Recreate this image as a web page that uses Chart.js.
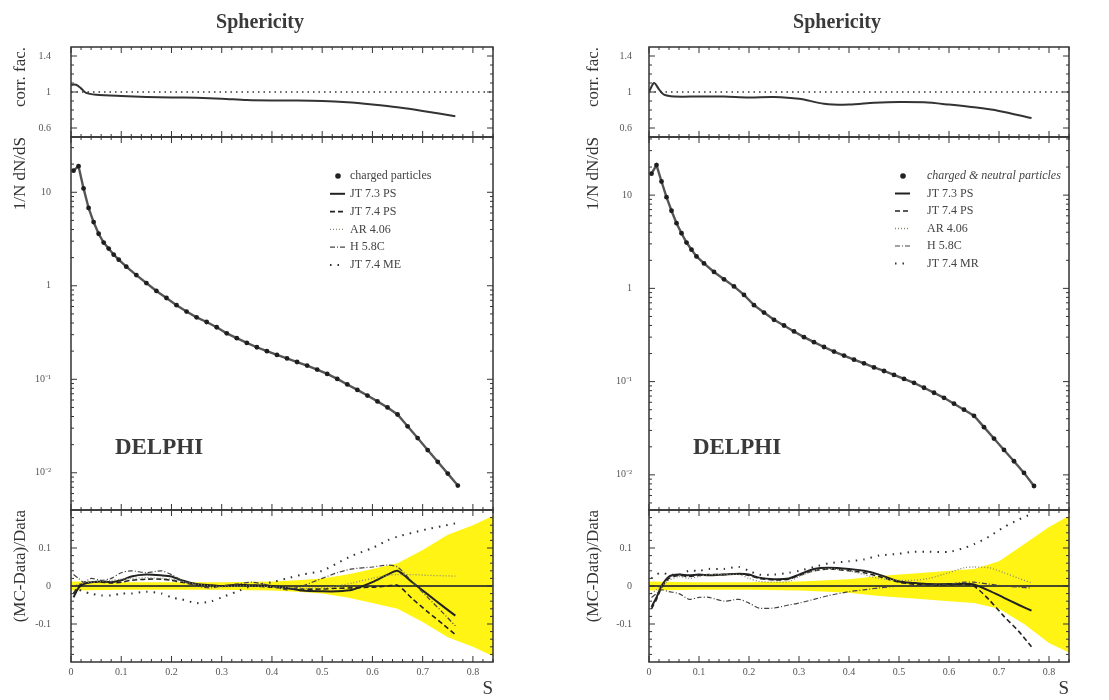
<!DOCTYPE html>
<html>
<head>
<meta charset="utf-8">
<script src="https://cdn.jsdelivr.net/npm/chart.js@4.4.1/dist/chart.umd.min.js"></script>
<style>
  html, body { margin: 0; padding: 0; background: #fff; }
  body { width: 1109px; height: 700px; position: relative; overflow: hidden; }
  canvas { position: absolute; top: 0; }
  #left { left: 0; }
  #right { left: 565px; }
</style>
</head>
<body>
<canvas id="left" width="540" height="700"></canvas>
<canvas id="right" width="544" height="700"></canvas>
<script>
// ---- data ----
const xTickValues = [0, 0.1, 0.2, 0.3, 0.4, 0.5, 0.6, 0.7, 0.8];
const xTickLabels = ['0', '0.1', '0.2', '0.3', '0.4', '0.5', '0.6', '0.7', '0.8'];
const corrTickValues = [0.6, 0.8, 1, 1.2, 1.4];
const corrTickLabels = ['0.6', '0.8', '1', '1.2', '1.4'];
const logTickValues = [0.01, 0.1, 1, 10];
const logTickLabels = ['10⁻²', '10⁻¹', '1', '10'];
const ratioTickValues = [-0.1, 0, 0.1];
const ratioTickLabels = ['-0.1', '0', '0.1'];

const legendLeft = ['charged particles', 'JT 7.3 PS', 'JT 7.4 PS', 'AR 4.06', 'H 5.8C', 'JT 7.4 ME'];
const legendRight = ['charged & neutral particles', 'JT 7.3 PS', 'JT 7.4 PS', 'AR 4.06', 'H 5.8C', 'JT 7.4 MR'];

// 1/N dN/dS
const dataS = [0.005, 0.015, 0.025, 0.035, 0.045, 0.055, 0.065, 0.075, 0.085, 0.095,
  0.11, 0.13, 0.15, 0.17, 0.19, 0.21, 0.23, 0.25, 0.27, 0.29,
  0.31, 0.33, 0.35, 0.37, 0.39, 0.41, 0.43, 0.45, 0.47, 0.49,
  0.51, 0.53, 0.55, 0.57, 0.59, 0.61, 0.63, 0.65, 0.67, 0.69,
  0.71, 0.73, 0.75, 0.77];
const dataLeft = [17, 19, 11, 6.8, 4.8, 3.6, 2.9, 2.5, 2.15, 1.9,
  1.6, 1.3, 1.07, 0.88, 0.74, 0.62, 0.53, 0.46, 0.41, 0.36,
  0.31, 0.275, 0.245, 0.22, 0.2, 0.182, 0.167, 0.153, 0.14, 0.127,
  0.114, 0.101, 0.088, 0.077, 0.067, 0.058, 0.05, 0.042, 0.0314, 0.0235,
  0.0175, 0.0131, 0.0098, 0.0073];
const dataRight = [17, 21, 14, 9.5, 6.8, 5.0, 3.9, 3.1, 2.6, 2.2,
  1.85, 1.5, 1.25, 1.05, 0.85, 0.66, 0.55, 0.46, 0.4, 0.345,
  0.3, 0.265, 0.235, 0.21, 0.19, 0.172, 0.157, 0.142, 0.13, 0.118,
  0.107, 0.097, 0.086, 0.076, 0.067, 0.058, 0.05, 0.043, 0.0325, 0.0245,
  0.0185, 0.014, 0.0105, 0.0076];

// correction factor
const corrS = [0, 0.01, 0.02, 0.03, 0.05, 0.1, 0.15, 0.2, 0.25, 0.3, 0.35, 0.4, 0.45, 0.5, 0.55, 0.6, 0.65, 0.7, 0.765];
const corrLeft = [1.08, 1.08, 1.04, 0.99, 0.97, 0.955, 0.945, 0.94, 0.935, 0.925, 0.91, 0.905, 0.905, 0.9, 0.885, 0.86, 0.83, 0.79, 0.73];
const corrRight = [1.0, 1.1, 1.03, 0.97, 0.95, 0.95, 0.95, 0.94, 0.945, 0.925, 0.87, 0.86, 0.88, 0.89, 0.885, 0.86, 0.83, 0.79, 0.71];
const unityS = [0, 0.84];
const unityV = [1, 1];
const zeroV = [0, 0];

// data error band in the ratio panel
const bandS = [0, 0.1, 0.2, 0.3, 0.4, 0.45, 0.5, 0.55, 0.6, 0.65, 0.7, 0.75, 0.8, 0.84];
const bandHiLeft = [0.012, 0.01, 0.01, 0.01, 0.012, 0.015, 0.02, 0.03, 0.045, 0.06, 0.095, 0.135, 0.16, 0.185];
const bandLoLeft = [-0.012, -0.01, -0.01, -0.01, -0.012, -0.015, -0.02, -0.03, -0.045, -0.06, -0.095, -0.135, -0.16, -0.185];
const bandHiRight = [0.012, 0.01, 0.01, 0.012, 0.018, 0.025, 0.03, 0.035, 0.04, 0.045, 0.065, 0.11, 0.155, 0.185];
const bandLoRight = [-0.012, -0.01, -0.01, -0.012, -0.018, -0.025, -0.03, -0.035, -0.04, -0.045, -0.06, -0.1, -0.15, -0.175];

// (MC-Data)/Data
const ratioS = [0.005, 0.015, 0.025, 0.04, 0.06, 0.08, 0.1, 0.12, 0.15, 0.18, 0.2, 0.22, 0.25, 0.28, 0.3,
  0.33, 0.36, 0.4, 0.43, 0.46, 0.5, 0.53, 0.56, 0.6, 0.63, 0.65, 0.68, 0.71, 0.74, 0.765];
const jt73Left = [-0.03, -0.005, 0.005, 0.01, 0.012, 0.01, 0.015, 0.025, 0.03, 0.028, 0.025, 0.015, 0.005, 0.002, 0.0,
  0.003, 0.002, 0.0, -0.005, -0.012, -0.014, -0.014, -0.01, 0.01, 0.03, 0.04, 0.009, -0.022, -0.053, -0.078];
const jt74Left = [-0.02, 0.0, 0.008, 0.01, 0.01, 0.008, 0.01, 0.015, 0.018, 0.018, 0.015, 0.01, 0.003, 0.0, 0.0,
  0.002, 0.0, -0.003, -0.006, -0.008, -0.008, -0.006, -0.005, -0.003, 0.0, 0.002, -0.034, -0.068, -0.1, -0.128];
const arLeft = [0.0, 0.005, 0.01, 0.01, 0.012, 0.015, 0.018, 0.02, 0.022, 0.02, 0.018, 0.012, 0.005, 0.0, -0.002,
  0.0, 0.0, -0.002, -0.004, -0.006, -0.005, 0.0, 0.008, 0.02, 0.028, 0.03, 0.03, 0.028, 0.027, 0.026];
const hLeft = [0.03, 0.02, 0.01, 0.02, 0.015, 0.02, 0.035, 0.04, 0.035, 0.04, 0.03, 0.015, 0.0, -0.005, 0.0,
  0.005, 0.01, 0.0, -0.01, 0.0, 0.02, 0.035, 0.045, 0.05, 0.055, 0.05, 0.01, -0.03, -0.07, -0.105];
const meLeft = [-0.02, -0.01, -0.015, -0.02, -0.025, -0.025, -0.02, -0.02, -0.015, -0.02, -0.03, -0.035, -0.045, -0.04, -0.03,
  -0.015, 0.0, 0.01, 0.02, 0.03, 0.04, 0.06, 0.08, 0.1, 0.12, 0.13, 0.14, 0.15, 0.158, 0.165];

const jt73Right = [-0.055, -0.03, 0.0, 0.025, 0.03, 0.028, 0.03, 0.028, 0.03, 0.032, 0.03, 0.022, 0.018, 0.02, 0.03,
  0.045, 0.048, 0.045, 0.04, 0.03, 0.012, 0.008, 0.005, 0.005, 0.006, 0.004, -0.012, -0.031, -0.05, -0.065];
const jt74Right = [-0.06, -0.035, -0.005, 0.02, 0.028, 0.025, 0.028, 0.03, 0.03, 0.032, 0.028, 0.02, 0.016, 0.018, 0.028,
  0.04, 0.045, 0.04, 0.035, 0.025, 0.01, 0.005, 0.003, 0.003, 0.004, 0.0, -0.036, -0.08, -0.12, -0.16];
const arRight = [-0.02, -0.01, 0.0, 0.015, 0.025, 0.02, 0.025, 0.03, 0.03, 0.03, 0.02, 0.012, 0.01, 0.012, 0.025,
  0.04, 0.045, 0.04, 0.03, 0.02, 0.015, 0.015, 0.02, 0.035, 0.048, 0.05, 0.048, 0.035, 0.02, 0.008];
const hRight = [-0.03, -0.02, -0.01, -0.015, -0.02, -0.035, -0.03, -0.03, -0.04, -0.035, -0.045, -0.058, -0.058, -0.05, -0.045,
  -0.035, -0.025, -0.015, -0.01, -0.005, 0.0, 0.0, 0.003, 0.005, 0.01, 0.01, 0.005, 0.0, -0.003, -0.005];
const meRight = [0.02, 0.03, 0.035, 0.03, 0.03, 0.04, 0.04, 0.045, 0.045, 0.05, 0.04, 0.03, 0.03, 0.035, 0.04,
  0.05, 0.06, 0.065, 0.07, 0.08, 0.085, 0.09, 0.09, 0.09, 0.1, 0.11, 0.13, 0.155, 0.175, 0.19];

// ---- styling ----
const serif = "'Liberation Serif', 'Times New Roman', serif";
const ink = '#333';
const yellow = 'rgb(255, 244, 20)';
const curveStyles = [
  {color: '#222', width: 2, dash: []},            // JT 7.3 PS
  {color: '#222', width: 1.6, dash: [5, 3]},      // JT 7.4 PS
  {color: '#8a8a70', width: 1.3, dash: [1, 2]},   // AR 4.06
  {color: '#444', width: 1.2, dash: [5, 2, 1, 2]},// H 5.8C
  {color: '#333', width: 2, dash: [1.5, 6]}       // JT 7.4 ME
];

const pts = (xs, ys) => xs.map((x, i) => ({x: x, y: ys[i]}));

const decor = {
  id: 'decor',
  afterDatasetsDraw(chart, args, o) {
    const ctx = chart.ctx;
    const ca = chart.chartArea;
    const xs = chart.scales.x;
    ctx.save();
    ctx.strokeStyle = ink;
    ['yTop', 'yMid', 'yBot'].forEach(id => {
      const s = chart.scales[id];
      ctx.lineWidth = 1.5;
      ctx.setLineDash([]);
      ctx.strokeRect(ca.left, s.top, ca.right - ca.left, s.bottom - s.top);
      ctx.lineWidth = 1;
      ctx.beginPath();
      // x ticks, inward, top and bottom
      for (let k = 0; k <= 42; k++) {
        const v = k * 0.02;
        if (v > xs.max + 1e-9) break;
        const px = xs.getPixelForValue(v);
        const L = k % 5 === 0 ? 6 : 3;
        ctx.moveTo(px, s.top); ctx.lineTo(px, s.top + L);
        ctx.moveTo(px, s.bottom); ctx.lineTo(px, s.bottom - L);
      }
      // y ticks, inward, left and right
      let minor = [];
      if (id === 'yTop') for (let k = 6; k <= 14; k++) minor.push(k / 10);
      if (id === 'yBot') for (let k = -9; k <= 9; k++) minor.push(k / 50);
      if (id === 'yMid') for (let d = -3; d <= 1; d++) for (let m = 1; m <= 9; m++) minor.push(m * Math.pow(10, d));
      minor.forEach(v => {
        if (v <= s.min || v >= s.max) return;
        const py = s.getPixelForValue(v);
        const major = s.ticks.some(t => Math.abs(t.value - v) < 1e-9);
        const L = major ? 6 : 3;
        ctx.moveTo(ca.left, py); ctx.lineTo(ca.left + L, py);
        ctx.moveTo(ca.right, py); ctx.lineTo(ca.right - L, py);
      });
      ctx.stroke();
    });

    // panel title and experiment name
    const cx = (ca.left + ca.right) / 2;
    ctx.fillStyle = '#3a3a3a';
    ctx.textAlign = 'center';
    ctx.textBaseline = 'middle';
    ctx.font = 'bold 20px ' + serif;
    ctx.fillText('Sphericity', cx - 22, 23);
    ctx.font = 'bold 23px ' + serif;
    ctx.fillText('DELPHI', ca.left + 88, 448);

    // legend
    ctx.textAlign = 'left';
    o.labels.forEach((lab, i) => {
      const y = o.top + i * o.step;
      const x0 = ca.left + o.sym;
      ctx.save();
      if (i === 0) {
        ctx.fillStyle = '#222';
        ctx.beginPath();
        ctx.arc(x0 + 8, y, 2.8, 0, Math.PI * 2);
        ctx.fill();
      } else {
        const st = curveStyles[i - 1];
        ctx.strokeStyle = st.color;
        ctx.lineWidth = st.width;
        ctx.setLineDash(st.dash);
        ctx.beginPath();
        ctx.moveTo(x0, y); ctx.lineTo(x0 + 15, y);
        ctx.stroke();
      }
      ctx.restore();
      ctx.fillStyle = '#444';
      ctx.font = (i === 0 && o.italicFirst ? 'italic ' : '') + '12px ' + serif;
      ctx.fillText(lab, ca.left + o.text, y);
    });
    ctx.restore();
  }
};

function yAxis(weight, values, labels, extra, P) {
  return Object.assign({
    position: 'left',
    stack: 'col',
    stackWeight: weight,
    afterFit: s => { s.width = P.axisW; },
    afterBuildTicks: s => { s.ticks = values.map(v => ({value: v})); },
    ticks: {
      callback: (v, i) => labels[i],
      font: {family: serif, size: 10},
      color: '#555',
      padding: P.tickPad
    },
    grid: {display: false, drawTicks: false},
    border: {display: false}
  }, extra);
}

function makeChart(id, P) {
  const curves = P.curves.map((ys, i) => ({
    data: pts(ratioS, ys), yAxisID: 'yBot',
    borderColor: curveStyles[i].color, borderWidth: curveStyles[i].width,
    borderDash: curveStyles[i].dash, pointRadius: 0, tension: 0.25, order: 5 - i
  }));
  const datasets = [
    {data: pts(dataS, P.data), yAxisID: 'yMid', showLine: false, pointRadius: 2.4,
     pointBackgroundColor: '#1e1e1e', pointBorderWidth: 0, order: 0},
    {data: pts(dataS, P.data), yAxisID: 'yMid', borderColor: '#555', borderWidth: 2.4,
     pointRadius: 0, order: 1},
    {data: pts(unityS, unityV), yAxisID: 'yTop', borderColor: '#333', borderWidth: 1.6,
     borderDash: [1.5, 4], pointRadius: 0, order: 2},
    {data: pts(corrS, P.corr), yAxisID: 'yTop', borderColor: '#333', borderWidth: 2,
     pointRadius: 0, tension: 0.3, order: 1},
    {data: pts(bandS, P.bandHi), yAxisID: 'yBot', borderWidth: 0, pointRadius: 0,
     fill: '+1', backgroundColor: yellow, order: 20},
    {data: pts(bandS, P.bandLo), yAxisID: 'yBot', borderWidth: 0, pointRadius: 0, order: 21},
    {data: pts(unityS, zeroV), yAxisID: 'yBot', borderColor: '#4a4a2a', borderWidth: 1.8,
     pointRadius: 0, order: 10}
  ].concat(curves);

  return new Chart(document.getElementById(id), {
    type: 'line',
    data: {datasets: datasets},
    options: {
      responsive: false,
      animation: false,
      layout: {padding: {top: 47, right: P.padRight, bottom: 0, left: 0}},
      plugins: {
        legend: {display: false},
        tooltip: {enabled: false},
        decor: P.legend
      },
      scales: {
        x: {
          type: 'linear', min: 0, max: 0.84, position: 'bottom',
          afterFit: s => { s.height = 38; },
          afterBuildTicks: s => { s.ticks = xTickValues.map(v => ({value: v})); },
          ticks: {callback: (v, i) => xTickLabels[i], font: {family: serif, size: 10}, color: '#555', padding: 4},
          grid: {display: false, drawTicks: false},
          border: {display: false},
          title: {display: true, text: 'S', align: 'end', color: '#333',
                  font: {family: serif, size: 19}, padding: {top: 0, bottom: 0}}
        },
        yBot: yAxis(152, ratioTickValues, ratioTickLabels, {
          type: 'linear', min: -0.2, max: 0.2,
          title: {display: true, text: '(MC-Data)/Data', align: 'end', color: '#333',
                  font: {family: serif, size: 17}, padding: {top: P.titlePad}}
        }, P),
        yMid: yAxis(373, logTickValues, logTickLabels, {
          type: 'logarithmic', min: P.logMin, max: P.logMax,
          title: {display: true, text: '1/N dN/dS', align: 'end', color: '#333',
                  font: {family: serif, size: 17}, padding: {top: P.titlePad}}
        }, P),
        yTop: yAxis(90, corrTickValues, corrTickLabels, {
          type: 'linear', min: 0.5, max: 1.5,
          title: {display: true, text: 'corr. fac.', align: 'end', color: '#333',
                  font: {family: serif, size: 17}, padding: {top: P.titlePad}}
        }, P)
      }
    },
    plugins: [decor]
  });
}

makeChart('left', {
  axisW: 71, tickPad: 20, titlePad: 10, padRight: 47,
  logMin: 0.004, logMax: 39,
  data: dataLeft, corr: corrLeft, bandHi: bandHiLeft, bandLo: bandLoLeft,
  curves: [jt73Left, jt74Left, arLeft, hLeft, meLeft],
  legend: {labels: legendLeft, top: 176, step: 17.8, sym: 259, text: 279, italicFirst: false}
});

makeChart('right', {
  axisW: 84, tickPad: 17, titlePad: 18, padRight: 40,
  logMin: 0.0042, logMax: 42,
  data: dataRight, corr: corrRight, bandHi: bandHiRight, bandLo: bandLoRight,
  curves: [jt73Right, jt74Right, arRight, hRight, meRight],
  legend: {labels: legendRight, top: 176, step: 17.5, sym: 246, text: 278, italicFirst: true}
});
</script>
</body>
</html>
